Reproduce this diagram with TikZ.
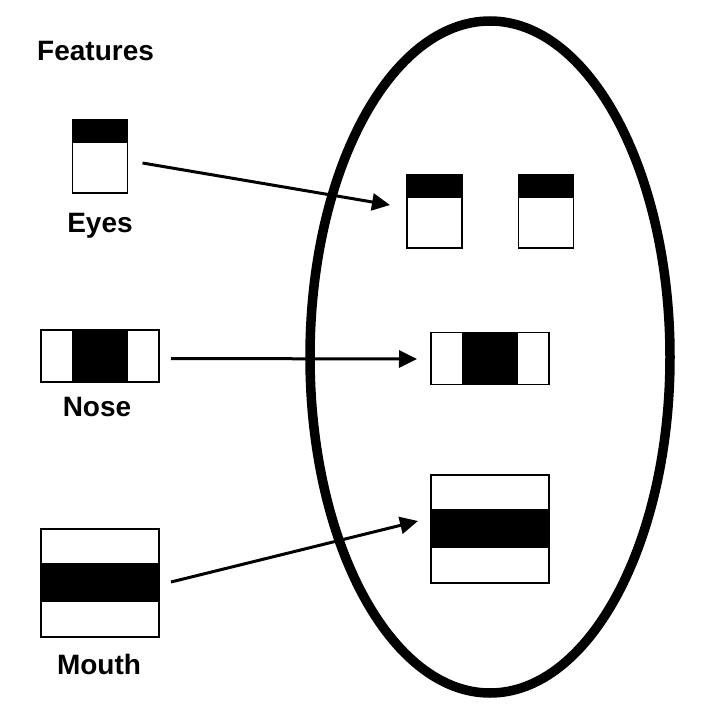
\documentclass[tikz,border=0pt]{standalone}
\usepackage{fontspec}
\setmainfont{Liberation Sans}
\usetikzlibrary{arrows.meta}
\begin{document}
\begin{tikzpicture}[x=1pt,y=-1pt,
  feat/.style={draw, line width=1.4pt, fill=white, inner sep=0pt, outer sep=0pt},
  eyebox/.style={feat, minimum width=55pt, minimum height=73pt,
    path picture={\fill[black] ([yshift=2pt]path picture bounding box.north west) rectangle ([yshift=-23pt]path picture bounding box.north east);}},
  nosebox/.style={feat, minimum width=118pt, minimum height=52pt,
    path picture={\fill[black] ([xshift=-28pt,yshift=2pt]path picture bounding box.north) rectangle ([xshift=28pt,yshift=-2pt]path picture bounding box.south);}},
  mouthbox/.style={feat, minimum width=118pt, minimum height=108pt,
    path picture={\fill[black] ([xshift=-2pt,yshift=20pt]path picture bounding box.west) rectangle ([xshift=2pt,yshift=-19pt]path picture bounding box.east);}},
  lab/.style={font=\fontsize{28}{32}\selectfont\bfseries, inner sep=0pt, anchor=base},
  arr/.style={line width=3pt, -{Triangle[length=18pt,width=17pt]}},
  face/.style={line width=9.5pt}
]
\useasboundingbox (0,0) rectangle (713,707);
\fill[white] (0,0) rectangle (713,707);

% face outline
\draw[face] (490,357) ellipse [x radius=180, y radius=336];

% title
\node[lab, anchor=base west] (title) at (37,60) {Features};

% left features
\node[eyebox] (eyeL) at (100,156.5) {};
\node[lab] (eyesLab) at (100,232) {Eyes};
\node[nosebox] (noseL) at (100,356) {};
\node[lab] (noseLab) at (97,416) {Nose};
\node[mouthbox] (mouthL) at (100,583) {};
\node[lab] (mouthLab) at (99,674) {Mouth};

% face features
\node[eyebox] (eyeA) at (434.5,211.5) {};
\node[eyebox] (eyeB) at (546,211.5) {};
\node[nosebox] (noseR) at (490,358.5) {};
\node[mouthbox] (mouthR) at (490,529) {};

% arrows
\draw[arr] ([xshift=15pt,yshift=-6.5pt]eyeL.east) -- ([xshift=-17pt,yshift=6.5pt]eyeA.west);
\draw[arr] ([xshift=12pt,yshift=-2.5pt]noseL.east) -- ([xshift=-14pt,yshift=-0.5pt]noseR.west);
\draw[arr] ([xshift=12pt,yshift=1pt]mouthL.east) -- ([xshift=-13pt,yshift=8pt]mouthR.west);
\end{tikzpicture}
\end{document}
